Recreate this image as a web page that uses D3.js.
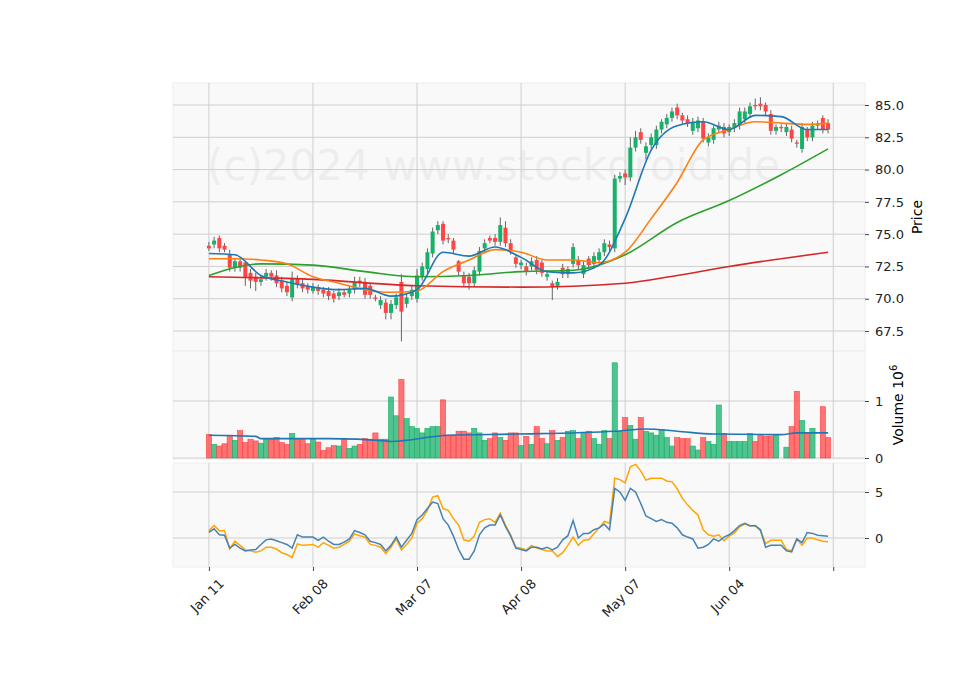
<!DOCTYPE html>
<html><head><meta charset="utf-8">
<script src="https://cdn.jsdelivr.net/npm/d3@7"></script>
<style>body{margin:0;background:#fff;font-family:"DejaVu Sans",sans-serif}</style>
</head><body><div id="chart"></div>
<script>
// candles, one per trading day
var opens = [74.1,74.2,74.7,74.1,73.4,72.4,72.9,72.8,72.0,71.7, 71.3,71.7,72.0,71.8,71.4,71.0,70.1,71.6,71.2,71.0,
  70.6,70.9,70.7,70.6,70.4,70.2,70.5,70.4,70.7,71.4, 71.3,71.0,70.1,69.5,69.7,68.9,69.5,71.3,69.6,70.2,
  70.0,71.7,72.3,73.5,75.3,75.8,74.7,74.5,72.9,71.8, 71.7,71.2,72.1,73.9,74.7,74.7,74.4,75.5,74.3,73.2,
  72.6,72.5,72.5,73.0,72.8,71.7,71.2,71.0,72.4,71.9, 72.7,73.0,71.9,73.1,72.7,73.0,73.6,74.2,73.9,79.3,
  79.7,79.4,81.7,82.9,81.3,81.9,81.9,83.1,83.5,84.0, 84.8,84.2,83.9,83.0,83.2,83.7,82.1,82.3,83.1,83.3,
  82.9,83.2,83.4,83.9,84.3,85.0,85.1,85.0,84.3,83.0, 83.3,82.9,83.1,82.1,81.6,83.1,82.5,83.4,84.0,83.6];
var closes = [73.9,74.5,73.9,73.8,72.4,72.9,72.4,71.6,71.4,71.3, 71.5,72.0,71.7,71.2,70.8,70.5,71.6,71.1,70.8,70.7,
  70.9,70.6,70.4,70.2,70.0,70.5,70.3,70.7,71.3,71.2, 70.3,70.3,70.0,69.9,68.9,69.6,70.1,69.0,70.1,70.7,
  71.8,72.5,73.6,75.2,75.7,74.5,74.6,73.8,72.1,71.2, 71.2,72.2,73.7,74.3,74.5,74.4,75.7,74.3,73.7,72.7,
  72.8,72.1,72.9,72.2,72.0,71.9,70.9,71.3,71.9,72.3, 74.0,72.6,72.6,72.6,73.3,73.6,74.3,74.0,79.3,79.5,
  79.4,81.7,82.5,82.3,81.8,82.5,83.1,83.7,84.0,84.5, 84.2,83.8,83.6,83.7,83.8,82.4,82.5,83.2,83.4,82.8,
  83.3,83.6,84.5,84.5,84.9,84.9,84.9,84.5,83.0,83.3, 83.2,83.3,82.4,82.0,83.3,82.5,83.4,83.5,83.1,83.1];
var wickUp = [0.3,0.3,0.2,0.2,0.4,0.2,0.3,0.1,0.3,0.3, 0.3,0.3,0.2,0.4,0.3,0.3,0.5,0.2,0.3,0.2,
  0.3,0.2,0.2,0.3,0.2,0.3,0.2,0.3,0.4,0.3, 0.3,0.2,0.2,0.3,0.3,0.3,0.3,0.6,0.3,0.3,
  0.5,0.3,0.3,0.3,0.3,0.2,0.3,0.2,0.1,0.3, 0.3,0.3,0.3,0.3,0.2,0.3,0.6,0.5,0.3,0.2,
  0.2,0.3,0.3,0.3,0.2,0.3,0.2,0.3,0.3,0.2, 0.3,0.3,0.3,0.2,0.3,0.3,0.3,0.3,0.3,0.3,
  0.3,0.8,0.5,0.3,0.3,0.3,0.3,0.2,0.3,0.3, 0.3,0.2,0.3,0.3,0.3,0.3,0.3,0.2,0.3,0.3,
  0.2,0.3,0.3,0.3,0.3,0.5,0.5,0.2,0.3,0.2, 0.2,0.3,0.3,0.2,0.3,0.2,0.3,0.3,0.2,0.3];
var wickDn = [0.2,0.3,0.3,0.2,0.3,0.3,0.3,0.6,0.6,0.7, 0.3,0.3,0.3,0.3,0.3,0.3,0.3,0.3,0.3,0.3,
  0.2,0.3,0.3,0.3,0.3,0.3,0.2,0.3,0.3,0.3, 0.3,0.3,0.2,0.3,0.5,0.5,0.3,2.3,0.3,0.3,
  0.3,0.3,0.3,0.3,0.3,0.3,0.3,0.3,0.3,0.3, 0.5,0.3,0.3,0.3,0.2,0.3,0.3,0.3,0.3,0.3,
  0.3,0.3,0.3,0.3,0.3,0.3,1.0,0.3,0.3,0.3, 0.3,0.3,0.3,0.3,0.3,0.3,0.3,0.3,0.3,0.3,
  0.6,0.3,0.3,0.3,0.5,0.3,0.3,0.3,0.3,0.3, 0.3,0.3,0.3,0.3,0.3,0.3,0.3,0.3,0.3,0.3,
  0.3,0.3,0.3,0.3,0.3,0.3,0.3,0.3,0.3,0.3, 0.3,0.3,0.3,0.3,0.3,0.3,0.3,0.3,0.3,0.3];
var volumes = [0.41,0.24,0.21,0.25,0.40,0.31,0.48,0.27,0.33,0.30, 0.26,0.34,0.33,0.36,0.27,0.24,0.43,0.33,0.33,0.25,
  0.33,0.28,0.13,0.18,0.22,0.21,0.34,0.17,0.21,0.24, 0.34,0.33,0.44,0.33,0.33,1.07,0.74,1.38,0.69,0.55,
  0.52,0.44,0.52,0.55,0.55,1.02,0.40,0.40,0.47,0.47, 0.44,0.52,0.44,0.31,0.34,0.44,0.36,0.31,0.44,0.44,
  0.22,0.38,0.24,0.55,0.34,0.25,0.48,0.31,0.36,0.47, 0.48,0.34,0.43,0.47,0.34,0.24,0.48,0.34,1.67,0.47,
  0.71,0.57,0.33,0.71,0.47,0.44,0.40,0.50,0.36,0.21, 0.36,0.34,0.34,0.21,0.14,0.36,0.29,0.24,0.93,0.43,
  0.29,0.29,0.29,0.29,0.43,0.29,0.41,0.38,0.38,0.41, 0,0.19,0.55,1.17,0.66,0.43,0.52,0,0.90,0.36];
// moving averages read at sample indices
var maIdx5 = [0,5,10,15,20,25,30,35,40,45,50,55,60,65,70,75,80,85,90,95,100,105,110,115,119];
var maShort = [73.5,73.4,71.8,71.3,70.9,70.7,70.8,70.2,70.7,73.6,73.3,74.0,73.2,72.1,72.0,72.6,76.2,81.5,83.4,83.7,83.1,84.2,84.1,83.1,83.1];
var maMid = [73.1,73.1,73.0,72.7,71.7,71.2,70.7,70.5,70.6,72.1,73.0,73.8,73.6,73.0,73.0,72.8,73.6,76.2,79.0,82.3,83.1,83.7,83.6,83.5,83.6];
var maIdx10 = [0,10,20,30,40,50,60,70,80,90,100,110,119];
var maLong = [71.8,72.7,72.6,72.1,71.7,71.8,72.1,72.2,73.4,75.9,77.6,79.6,81.6];
var maIdx20 = [0,20,40,60,80,90,100,110,119];
var maVeryLong = [71.7,71.5,71.0,70.9,71.2,71.8,72.5,73.1,73.6];
var volMaIdx = [0,9,10,23,34,35,46,59,78,84,90,97,110,113,119];
var volMa = [0.40,0.38,0.34,0.34,0.30,0.29,0.40,0.42,0.47,0.51,0.47,0.42,0.41,0.44,0.44];
// lower panel oscillators
var oscBlue = [0.6,1.0,0.35,0.3,-1.1,-0.7,-1.1,-1.4,-1.3,-1.25, -0.7,-0.2,-0.1,-0.3,-0.5,-0.7,-1.1,0.35,0.1,0.1,
  0.1,-0.25,0.1,-0.35,-0.7,-0.7,-0.45,-0.1,0.8,0.6, 0.35,-0.35,-0.5,-0.7,-1.4,-0.8,0.1,-1.0,-0.25,0.5,
  2.0,2.5,3.2,3.9,3.75,2.1,1.4,0.2,-1.25,-2.3, -2.3,-1.4,0.35,1.1,1.4,1.4,2.5,1.25,0.2,-1.1,
  -1.25,-1.4,-1.0,-1.0,-1.2,-1.0,-1.3,-1.0,-0.2,0.25, 1.9,0,0.5,0.5,0.9,1.1,1.5,0.9,5.4,5.0,
  4.1,5.4,5.0,3.75,2.4,2.1,1.8,2.0,1.7,1.6, 1.1,0.35,0.1,-0.1,-1.1,-1.0,-0.7,-0.1,-0.35,0.1,
  0.35,0.8,1.35,1.6,1.3,1.35,0.9,-1.0,-0.8,-0.8, -0.8,-1.4,-1.5,-0.1,-0.5,0.6,0.5,0.3,0.25,0.2];
var oscOrange = [0.8,1.35,0.8,0.8,-1.2,-0.35,-0.8,-1.3,-1.4,-1.55, -1.4,-1.0,-1.0,-1.2,-1.6,-1.8,-2.1,-0.65,-0.8,-0.75,
  -0.7,-1.0,-0.5,-0.8,-1.1,-1.0,-0.7,-0.35,0.45,0.25, 0.1,-0.7,-0.8,-1.0,-1.7,-1.0,-0.1,-1.3,-0.7,0,
  1.6,2.1,3.0,4.45,4.6,3.2,3.0,2.1,1.4,-0.2, -0.35,0.2,1.7,2.0,2.1,1.7,2.7,1.4,0.35,-1.0,
  -1.1,-1.3,-0.8,-1.1,-1.25,-1.4,-1.4,-2.0,-1.6,-0.8, 0.1,-0.8,-0.25,-0.2,0.45,1.1,1.8,1.6,6.5,6.35,
  6.0,7.75,8.0,7.3,6.3,6.5,6.5,6.5,6.2,6.1, 5.35,4.3,3.6,3.0,2.5,0.9,0.35,0.2,0.35,-0.3,
  0.2,0.55,1.2,1.55,1.35,1.3,0.8,-0.6,-0.25,-0.25, -0.25,-1.25,-1.4,-0.1,-0.8,0,0,-0.2,-0.35,-0.4];
var tickIdx = [0,20,40,60,80,100,120];
var tickLabels = ["Jan 11","Feb 08","Mar 07","Apr 08","May 07","Jun 04",""];
var priceTicks = [67.5,70,72.5,75,77.5,80,82.5,85];

var W = 960, H = 690, L = 173, R = 865;
var svg = d3.select("#chart").append("svg").attr("width", W).attr("height", H);
var x = d3.scaleLinear().domain([-6.9, 126.1]).range([L, R]);
var yP = d3.scaleLinear().domain([85, 67.5]).range([105, 331]);
var yV = d3.scaleLinear().domain([0, 1]).range([458, 401]);
var yO = d3.scaleLinear().domain([0, 5]).range([538, 492]);
var green = "#17b169", red = "#ff4545";

var panels = [[83, 351], [351, 459], [463, 567]];
panels.forEach(function (p) {
  svg.append("rect").attr("x", L).attr("y", p[0]).attr("width", R - L).attr("height", p[1] - p[0])
    .attr("fill", "#f9f9f9").attr("stroke", "#eeeeee");
});
svg.append("text").attr("x", 207).attr("y", 180).attr("font-size", 42).attr("fill", "#000")
  .attr("opacity", 0.045).text("(c)2024 www.stockdroid.de");

// vertical grid
tickIdx.forEach(function (t) {
  panels.forEach(function (p) {
    svg.append("line").attr("x1", x(t)).attr("x2", x(t)).attr("y1", p[0]).attr("y2", p[1])
      .attr("stroke", "#cfcfcf");
  });
});
function hgrid(scale, vals, p) {
  vals.forEach(function (v) {
    svg.append("line").attr("x1", L).attr("x2", R).attr("y1", scale(v)).attr("y2", scale(v)).attr("stroke", "#cfcfcf");
  });
}
hgrid(yP, priceTicks, panels[0]);
hgrid(yV, [0, 1], panels[1]);
hgrid(yO, [0, 5], panels[2]);

// right axes
function raxis(scale, vals, fmt) {
  var g = svg.append("g").attr("transform", "translate(" + R + ",0)")
    .call(d3.axisRight(scale).tickValues(vals).tickFormat(fmt).tickSize(4).tickPadding(6));
  g.select(".domain").remove();
  g.selectAll("text").attr("font-size", 13).attr("fill", "#222").attr("font-family", "DejaVu Sans");
  g.selectAll("line").attr("stroke", "#444");
}
raxis(yP, priceTicks, d3.format(".1f"));
raxis(yV, [0, 1], d3.format("d"));
raxis(yO, [0, 5], d3.format("d"));
svg.append("text").attr("transform", "translate(922,217) rotate(-90)").attr("text-anchor", "middle")
  .attr("font-size", 14).text("Price");
var vl = svg.append("text").attr("transform", "translate(903,405) rotate(-90)").attr("text-anchor", "middle")
  .attr("font-size", 14);
vl.append("tspan").text("Volume  10");
vl.append("tspan").attr("dy", -6).attr("font-size", 10).text("6");

// x axis
var gx = svg.append("g").attr("transform", "translate(0,567)")
  .call(d3.axisBottom(x).tickValues(tickIdx).tickFormat(function (d, i) { return tickLabels[i]; }).tickSize(4));
gx.select(".domain").remove();
gx.selectAll("line").attr("stroke", "#444");
gx.selectAll("text").attr("font-size", 13).attr("fill", "#222").attr("font-family", "DejaVu Sans")
  .attr("text-anchor", "end").attr("transform", "translate(4,6) rotate(-45)");

var idx = d3.range(opens.length);
// candles
var c = svg.append("g").selectAll("g").data(idx).enter().append("g");
c.append("line").attr("x1", function (i) { return x(i); }).attr("x2", function (i) { return x(i); })
  .attr("y1", function (i) { return yP(Math.max(opens[i], closes[i]) + wickUp[i]); })
  .attr("y2", function (i) { return yP(Math.min(opens[i], closes[i]) - wickDn[i]); })
  .attr("stroke", "#666").attr("stroke-width", 1);
c.append("rect").attr("x", function (i) { return x(i) - 2; }).attr("width", 4)
  .attr("y", function (i) { return yP(Math.max(opens[i], closes[i])); })
  .attr("height", function (i) { return Math.max(1, Math.abs(yP(opens[i]) - yP(closes[i]))); })
  .attr("fill", function (i) { return closes[i] >= opens[i] ? green : red; });

// volume bars
svg.append("g").selectAll("rect").data(idx).enter().append("rect")
  .attr("x", function (i) { return x(i) - 2.6; }).attr("width", 5.2)
  .attr("y", function (i) { return yV(volumes[i]); })
  .attr("height", function (i) { return yV(0) - yV(volumes[i]); })
  .attr("fill", function (i) { return closes[i] >= opens[i] ? green : red; })
  .attr("fill-opacity", 0.75)
  .attr("stroke", function (i) { return closes[i] >= opens[i] ? green : red; }).attr("stroke-width", 0.6);

function curve(xs, ys, scale, color, w, smooth) {
  var line = d3.line().x(function (d) { return x(d[0]); }).y(function (d) { return scale(d[1]); });
  if (smooth) line.curve(d3.curveMonotoneX);
  svg.append("path").datum(d3.zip(xs, ys)).attr("d", line).attr("fill", "none")
    .attr("stroke", color).attr("stroke-width", w);
}
curve(maIdx20, maVeryLong, yP, "#d62728", 1.6, true);
curve(maIdx10, maLong, yP, "#2ca02c", 1.6, true);
curve(maIdx5, maMid, yP, "#ff7f0e", 1.6, true);
curve(maIdx5, maShort, yP, "#1f77b4", 1.6, true);
curve(volMaIdx, volMa, yV, "#1f77b4", 1.6, true);
curve(idx, oscOrange, yO, "#ffa500", 1.5, false);
curve(idx, oscBlue, yO, "#4682b4", 1.5, false);
</script></body></html>
